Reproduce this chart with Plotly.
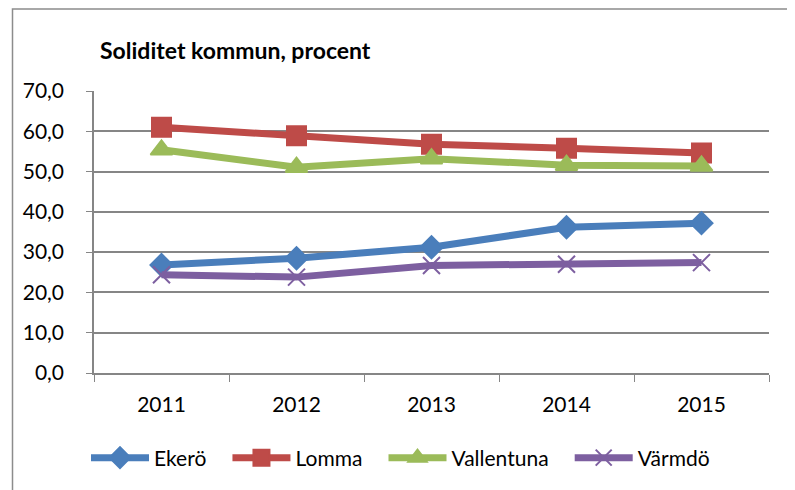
import plotly.graph_objects as go

years = ["2011", "2012", "2013", "2014", "2015"]
ekero = [26.8, 28.5, 31.2, 36.2, 37.2]
lomma = [61.0, 58.9, 56.8, 55.8, 54.6]
vallentuna = [55.4, 51.1, 53.2, 51.6, 51.4]
varmdo = [24.4, 23.8, 26.7, 27.0, 27.4]

series = [
    ("Ekerö", ekero, "#4A7EBB", "diamond", 17),
    ("Lomma", lomma, "#BE4B48", "square", 19),
    ("Vallentuna", vallentuna, "#9BBB59", "triangle-up", 19),
    ("Värmdö", varmdo, "#7D5FA0", "x-thin", 17),
]

PAD = "\u00a0" * 3
fig = go.Figure()
for i, (name, vals, col, sym, size) in enumerate(series):
    fig.add_trace(go.Scatter(
        x=years, y=vals, name=name + (PAD if i < len(series) - 1 else ""),
        mode="lines+markers",
        line=dict(color=col, width=7),
        marker=dict(symbol=sym, size=size, color=col,
                    line=dict(color=col, width=2)),
    ))

# page body has an 8px margin, so the figure is placed at (8, 8)
W, H = 787, 482
L, R, T, B = 86, 26, 83, 117
pw, ph = W - L - R, H - T - B

font = "Lato, 'Open Sans', sans-serif"
fig.update_layout(
    width=W, height=H,
    margin=dict(l=L, r=R, t=T, b=B, autoexpand=False),
    paper_bgcolor="white", plot_bgcolor="white",
    separators=", ",
    font=dict(family=font, size=21, color="black"),
    title=dict(text="<b>Soliditet kommun, procent</b>", x=92/W, xanchor="left",
               y=1 - 43/H, yanchor="middle", font=dict(size=23, family=font)),
    showlegend=True,
    legend=dict(orientation="h", xref="container", x=(92 - 8 - 6) / W, xanchor="left",
                yref="container", y=1 - 450/H, yanchor="middle",
                font=dict(size=21, family=font), itemwidth=58,
                tracegroupgap=0),
    shapes=[dict(type="rect", xref="paper", yref="paper",
                 x0=(4.5 - L) / pw, x1=1 + 60 / pw,
                 y0=-(B + 60) / ph, y1=1 + (T - 1) / ph,
                 line=dict(color="#8C8C8C", width=1.5), layer="below")],
)
fig.update_xaxes(type="category", range=[-0.5, 4.5], tickson="boundaries",
                 ticks="outside", ticklen=7, tickcolor="#868686",
                 showline=True, linecolor="#868686", linewidth=1.5,
                 showgrid=False, tickfont=dict(size=21), ticklabelstandoff=12)
fig.update_yaxes(range=[0, 70], dtick=10, tickformat=".1f",
                 ticks="outside", ticklen=6, tickcolor="#868686",
                 showline=True, linecolor="#868686", linewidth=1.5,
                 gridcolor="#868686", gridwidth=1.5, zeroline=False,
                 tickfont=dict(size=21), ticklabelstandoff=18)

fig.write_html("out.html")
